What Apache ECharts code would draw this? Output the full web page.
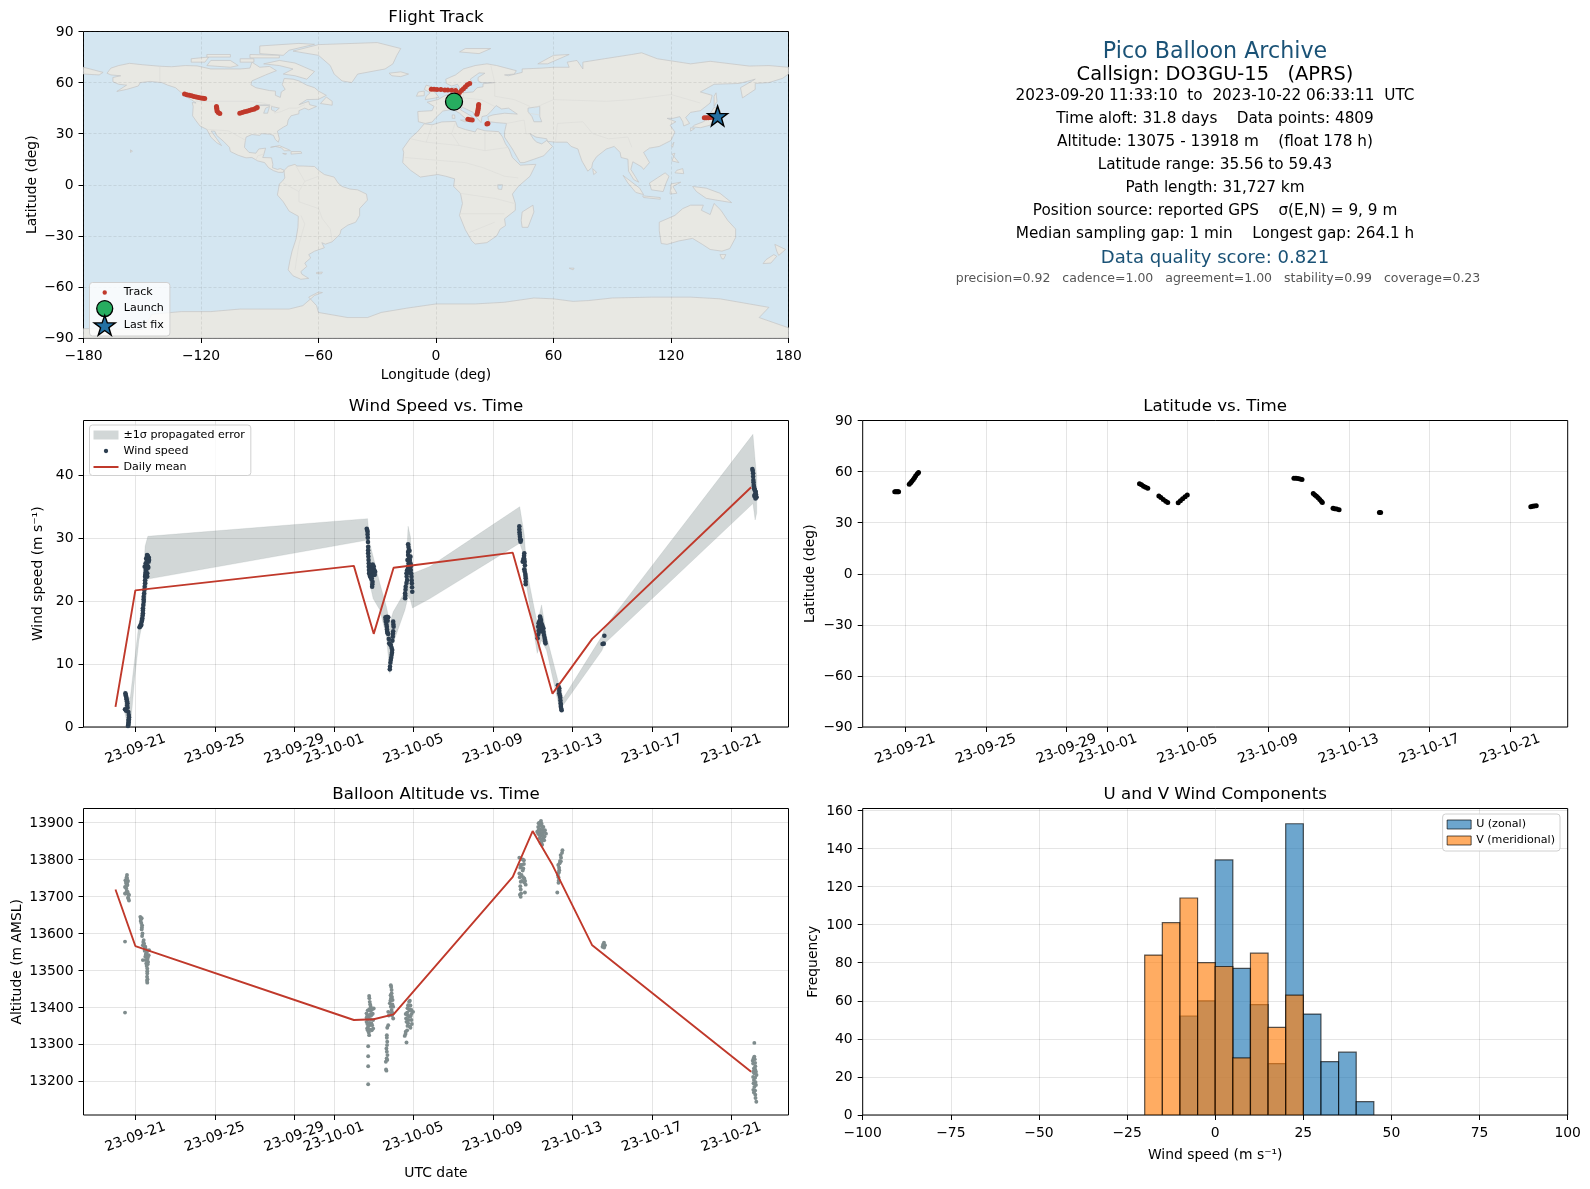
<!DOCTYPE html>
<html>
<head>
<meta charset="utf-8">
<title>Pico Balloon Archive</title>
<script src="https://cdn.jsdelivr.net/npm/echarts@6/dist/echarts.min.js"></script>
<style>html,body{margin:0;padding:0;background:#fff}#c{width:1590px;height:1189px}</style>
</head>
<body>
<div id="c"></div>
<script>
// ---------- axis ticks (days after 2023-09-21 00:00 UTC) ----------
const tickDays = [0, 4, 8, 10, 14, 18, 22, 26, 30];
const tickLabels = ['23-09-21','23-09-25','23-09-29','23-10-01','23-10-05','23-10-09','23-10-13','23-10-17','23-10-21'];
const windTicks = [0, 10, 20, 30, 40];
const altTicks = [13200, 13300, 13400, 13500, 13600, 13700, 13800, 13900];
const freqTicks = [0, 20, 40, 60, 80, 100, 120, 140, 160];

// ---------- info panel ----------
const infoTitle = 'Pico Balloon Archive';
const infoCallsign = 'Callsign: DO3GU-15   (APRS)';
const infoLines = [
  '2023-09-20 11:33:10  to  2023-10-22 06:33:11  UTC',
  'Time aloft: 31.8 days    Data points: 4809',
  'Altitude: 13075 - 13918 m    (float 178 h)',
  'Latitude range: 35.56 to 59.43',
  'Path length: 31,727 km',
  'Position source: reported GPS    σ(E,N) = 9, 9 m',
  'Median sampling gap: 1 min    Longest gap: 264.1 h'
];
const infoScore = 'Data quality score: 0.821';
const infoParts = 'precision=0.92   cadence=1.00   agreement=1.00   stability=0.99   coverage=0.23';

// ---------- map: track ----------
const trackLon = [-128.4,-127.2,-126,-124.8,-123.6,-122.4,-121.2,-120,-119,-118.1,
  -112.1,-112,-111.9,-111.8,-111.2,-110.4,
  -100.2,-99,-97.8,-96.6,-95.4,-94.2,-93,-92,-91.3,
  -2.4,-1,0.5,2.5,4.5,6,8,10,
  11.2,12,13,14,15,16,17.2, 9,9.5,10.5,
  21.8,21.7,21.6,21.4,21.2,20.9, 16.3,17.4,18.5, 26,26.5, 137,138,139,140,141.3];
const trackLat = [53.3,52.9,52.6,52.2,51.9,51.6,51.3,51,50.8,50.6,
  45.9,45.2,44.5,43.3,42.5,41.8,
  42,42.4,42.8,43.2,43.6,44,44.4,44.9,45.3,
  56.1,56.1,55.9,55.9,55.7,55.6,55.5,55.3,
  53.1,54.2,55.3,56.4,57.5,58.7,59.4, 48.1,48.2,48.2,
  47.2,46.2,45,43.8,42.6,41.4, 38.4,38.2,38, 35.7,35.9, 39.4,39.4,39.4,39.5,39.6];
const launchPoint = [9.2, 48.8];
const lastFixPoint = [143.8, 40.4];

// ---------- map: land outlines as [lon, lat] ----------
const landNorthAmerica = [[-168,65.5],[-166,68.5],[-162,70],[-156.5,71.3],[-150,70.5],[-141,69.6],[-135,69.3],[-128,70],[-122,69.8],[-115,68],[-108,68],[-100,68],[-95,68.5],[-94,72],[-90,69],[-85,69.5],[-81.5,67],[-87,64.5],[-94,61],[-94.5,58.7],[-92,57],[-85,55.3],[-82,55],[-82,52.5],[-79.5,51.3],[-79,54.5],[-77,56],[-78.5,58.8],[-77.5,62.4],[-73,62],[-70,61],[-66,58.5],[-62,57],[-60,55],[-56,52.5],[-60,50.2],[-66,50],[-70,47],[-65,49],[-64.5,47],[-61,46],[-65,44],[-67,45],[-70,43.5],[-70,41.7],[-74,40.5],[-75.5,38],[-76,35],[-78,33.8],[-81,31.5],[-80,27],[-80.5,25],[-82,26.5],[-83,29],[-85,29.7],[-89,30],[-90,29],[-94,29.5],[-97,28],[-97.5,25],[-97.8,22],[-95.5,19],[-92,18.5],[-90.5,21],[-87,21.5],[-88,17.5],[-88.5,16],[-84,15.8],[-83.3,12],[-83.5,10],[-81,9],[-79.5,9.5],[-77.5,8.5],[-78,7.3],[-80.5,7.3],[-83,8.3],[-85.5,10],[-87.5,13],[-91,14],[-94,16],[-97,15.8],[-101,17.3],[-105,19.5],[-105.5,22],[-108.5,25.5],[-112,29],[-113,31.5],[-114.8,31.5],[-112,27],[-109.5,23],[-112,24.7],[-115,28],[-117,32.5],[-120.5,34.5],[-122.5,37.5],[-124.3,40.5],[-124,46],[-124.5,48.3],[-122.5,48],[-125,50],[-128,52],[-130.5,54.5],[-133,57],[-137,58.5],[-140,60],[-146,60.7],[-151,60],[-152,58],[-158,56],[-163,54.8],[-158,58.5],[-162,59],[-165,60.5],[-165,63],[-161,64],[-166,64.5]];
const landSouthAmerica = [[-77.5,8.5],[-75.5,10.8],[-72,12],[-71,11],[-68,11],[-62,10.7],[-60,8.5],[-57,6],[-52,4.5],[-50,1],[-48,-1],[-44,-2.5],[-40,-3],[-35.5,-5.5],[-35,-9],[-39,-14],[-39,-18],[-41,-22],[-45,-23.7],[-48.5,-26.5],[-49,-29],[-53,-33.5],[-56.5,-34.9],[-58.3,-34],[-57,-37],[-62,-39],[-65,-41],[-64,-43],[-67,-46],[-66,-48],[-69,-51],[-68.5,-52.5],[-65,-55],[-69,-55.5],[-73,-53.5],[-75.5,-50],[-74.5,-44],[-73.5,-39],[-71.5,-32],[-70.5,-25],[-70.3,-18.5],[-75,-15.5],[-78,-10],[-81,-6],[-80.5,-3],[-80,0.5],[-78.5,2],[-77.2,4],[-77.5,7]];
const landAfrica = [[-6,35.8],[-2,35.2],[3,36.9],[10,37.2],[11,34],[15,32.4],[20,31],[21,33],[25,31.7],[32,31.2],[34,28],[35.5,24],[37.3,21],[39,16],[43,11.5],[51,12],[48,5],[42,-1],[39,-5.5],[40.5,-11],[40.5,-15],[35,-20],[35.5,-24],[32.8,-26],[31,-30],[26,-34],[20,-34.8],[18.3,-33],[15,-26.5],[12,-18],[13.5,-11],[12.5,-5],[9,-1],[9.5,3.5],[5,5],[1,6],[-4,5.2],[-8,4.5],[-13,8.5],[-17,13],[-16.5,19],[-17,21],[-13,27.5],[-9.5,31]];
const landEurasia = [[-9,37],[-9.3,43],[-2,43.5],[-1,46],[-4.5,48.5],[1,50],[4,52],[8,54],[8.5,57],[10.5,57.5],[11,54.3],[14,54],[19,54.5],[21,57],[24,57.5],[24,59.3],[30,60],[23,60],[21.5,61],[21.5,63],[25,65.5],[22,65.7],[17.5,62],[18.5,60],[16.5,57],[14.5,55.5],[12.8,55.5],[11,59],[8,58],[5.3,59.5],[5,62],[10,64.5],[14,68],[20,70],[26,71],[31,70],[41,67],[40,65],[35,64.5],[37,64],[44,66],[44,68],[54,68.5],[60,69],[68,69],[67,72],[72,73],[75,68],[75,72],[86,74],[100,76.5],[105,77.5],[113,74],[130,71],[140,72.5],[160,69.7],[170,70],[180,69],[180,65],[177,62.5],[170,60],[163,59.5],[163,56],[156.5,51],[155.5,57],[163,62],[155,59.5],[142,59],[135,54.5],[141,52.5],[140,48],[135,43.5],[130,42.5],[127.5,39.5],[129.5,36],[126.5,34.5],[126,37],[124.5,40],[121,39],[118,39],[122.5,37],[119.5,35],[122,31],[120,26],[114,22.5],[109,21.5],[106,19],[109,13],[106,9],[105,10.5],[100.5,13.5],[99.5,9],[103.5,1.5],[101,3],[98.3,8],[98,15],[94.5,16],[94,19],[91,22.5],[87,21],[82,16.5],[80,13],[79.5,10],[77.5,8],[74.5,14],[73,19],[72.5,21],[69,22.5],[67,25],[61,25],[57,25.5],[56.5,27],[51,28],[48,30],[50,26.5],[51.5,25],[54,24],[56.5,26],[59.5,22.5],[55,17],[45,13],[43,13],[39,21],[35,28],[35,31],[36,36],[31,36.5],[27,37],[26.5,40],[29,41],[35,42],[41.5,41.5],[37,45],[33.5,44.5],[30.7,46.5],[28,43],[26,40.7],[23.5,40],[23,36.5],[19.5,41],[19,42.5],[13.5,45.5],[12.5,44],[18.5,40],[16,38],[12,42],[8.5,44.3],[3.5,43.3],[0,39.5],[-2,36.8],[-5.5,36]];
const landAntarctica = [[-180,-84.5],[-150,-85],[-145,-76],[-130,-74.5],[-115,-74.5],[-100,-73],[-90,-73],[-75,-73],[-68,-71],[-62,-65],[-58,-63.3],[-60,-63],[-65,-66],[-61,-71],[-60,-75],[-45,-78],[-35,-78],[-28,-75],[-15,-72.5],[0,-70],[20,-70],[35,-69],[50,-66.5],[60,-67],[70,-68.5],[78,-68],[90,-66.5],[110,-66],[130,-66],[145,-67],[160,-70],[170,-72],[165,-78],[180,-84],[180,-90],[-180,-90]];
const landAustralia = [[114,-22],[122,-18],[126,-14],[130,-12],[136.5,-12],[135.5,-15],[140,-17.5],[142,-11],[145.5,-15],[149,-21],[153,-26],[153,-31],[150,-37.5],[146,-39],[140,-38],[136,-35],[131,-31.5],[124,-33],[118,-35],[115,-34.5],[114,-27]];
const landGreenland = [[-73,78.5],[-60,76],[-54,70],[-52,65],[-48,61],[-43,60],[-40,65],[-26,68],[-22,71],[-20,76],[-18,80],[-30,83.5],[-60,82.3]];
const landIslands = [
  [[-80,73],[-72,71.5],[-67,69],[-62,66.5],[-66,62],[-72,64],[-78,65],[-73,68],[-80,70],[-88,71]],
  [[-117,70],[-105,69],[-101,70],[-105,73],[-115,73]],
  [[-90,77],[-78,76],[-75,79],[-62,82.5],[-70,83],[-90,81.5]],
  [[-125,72],[-118,72],[-116,75],[-125,74]],
  [[-95,74.5],[-80,74.5],[-80,76],[-95,76.5]],
  [[-117,75],[-105,75],[-105,76.5],[-117,76.5]],
  [[-100,72],[-93,72],[-93,74],[-100,74]],
  [[-59,47.7],[-53,46.7],[-53,49],[-56,51.5]],
  [[-84.5,22],[-80,23],[-75,20.5],[-74.3,20],[-77.5,20],[-79,21.7],[-82,22.5]],
  [[-74,19.5],[-69,19.5],[-68.5,18.5],[-74,18]],
  [[-78.3,18.4],[-76.3,18.2],[-77,17.8]],
  [[-156,19],[-155,19.7],[-156,20.5]],
  [[-24,65.5],[-18,66.3],[-14,65],[-18,63.5],[-22.5,64]],
  [[-61,-51.5],[-58,-51.3],[-58.5,-52.3],[-61,-52.2]],
  [[44,-16],[49.5,-12],[50,-16],[47,-25],[44,-25],[43.5,-21]],
  [[-5.5,50],[1.5,51.3],[0,53.5],[-2,56],[-2,57.5],[-5,58.5],[-6,56],[-3,54],[-5,52]],
  [[-10,52],[-6,52.3],[-6,55],[-9,54.5]],
  [[12.5,38],[15.5,38],[15,36.8]],
  [[8.3,39],[9.7,39],[9.5,41],[8.3,41]],
  [[131,34],[135,33.5],[140,35],[141.8,39],[141,41.5],[139.8,39.5],[136.5,37],[132,35]],
  [[140,42],[145.5,43.3],[142,45.5],[141,43.5]],
  [[130,31.5],[132,33],[130,33.5]],
  [[142,46],[143.5,49],[143,54],[142,52]],
  [[120.2,23],[121.5,25],[120.8,22]],
  [[80,9.5],[82,7.3],[80.5,6]],
  [[120.5,14],[122,18.5],[120.5,18],[124,13]],
  [[122,7],[126.5,6.5],[126,9.5],[123,8.5]],
  [[109,1],[117,7],[119,5],[117.5,1],[116,-4],[110,-3]],
  [[95.5,5.5],[104,-2],[106,-5.8],[102,-4.5],[98,1]],
  [[105.5,-6.5],[114.5,-7.5],[114.5,-8.5],[106,-7.5]],
  [[119.5,-5.5],[120,0.5],[125,1.5],[121,-1],[123,-5]],
  [[131,-1],[138,-2],[145,-5],[151,-10.5],[143,-9],[138,-8],[133,-4]],
  [[145,-41],[148,-41],[147,-43.5],[146,-43.5]],
  [[173,-35],[178.5,-38],[175,-41.5],[174,-39]],
  [[172.5,-41],[174,-42],[171,-46],[167,-46.3],[168.5,-44]],
  [[52,71],[57,71],[68,76.5],[60,76]],
  [[12,78],[22,77],[28,80],[15,80]],
  [[-180,65],[-172,64.5],[-170,66],[-180,69]],
  [[68,-49],[70.5,-49],[70,-50]]
];
const lakes = [
  [[47,45],[53,46],[53,40],[54,37],[50,37],[49,40],[47,43]],
  [[-92,46.8],[-85,47],[-85,46.5],[-90,46.5]],
  [[-88,42],[-86,42],[-85,46],[-87,45]],
  [[-84,46],[-80,45],[-82,43],[-84,44]],
  [[31.5,0],[34,0],[33.5,-2.8],[31.7,-2.5]]
];
const borderLines = [
  [[-123,49],[-95,49],[-88,48],[-83,46],[-82.5,42],[-79,43],[-75,45],[-71,45],[-67,47]],
  [[-141,70],[-141,60]],
  [[-117,32.5],[-106,31.7],[-97,26]],
  [[-92,14.5],[-91,17],[-88,18]],
  [[-70,-10],[-60,-14],[-58,-20],[-54,-26],[-53,-33]],
  [[-70,-10],[-70,-4],[-67,2],[-60,5]],
  [[-69,-18],[-67,-23],[-70,-35],[-72,-50]],
  [[-78,1],[-70,-4]],[[-72,12],[-67,2]],
  [[-13,27],[-5,25],[12,23],[25,20],[25,31]],
  [[25,20],[37,22]],
  [[-16,16],[15,13],[24,10],[35,5],[42,4]],
  [[12,-5],[30,-8],[40,-11]],
  [[12,-17],[35,-17]],
  [[17,-28],[30,-22]],
  [[10,37],[8,30],[12,23]],[[-2,35],[-5,25]],
  [[28,70],[30,60]],
  [[60,50],[87,49],[100,50],[120,53],[135,48]],
  [[47,42],[53,41]],
  [[62,36],[75,37],[80,30],[88,27],[98,28],[100,22]],
  [[61,25],[62,36]],
  [[36,36],[45,38],[46,30],[48,30]],
  [[14,54],[14,51],[23,50],[30,46]],
  [[3,43],[8,48],[6,51]],
  [[30,60],[30,52],[40,50],[48,46]],
  [[50,45],[60,50]]
];

// ---------- wind speed (t = days after 09-21, m/s) ----------
const windT = [-0.50,-0.47,-0.44,-0.40,-0.39,-0.52,-0.46,-0.35,-0.32,-0.34,-0.35,-0.37,
  -0.49,-0.45,-0.42,-0.41,-0.48,-0.33,-0.33,-0.34,-0.36,
  0.21,0.26,0.30,0.32,0.35,0.38,0.38,0.42,0.42,0.45,0.49,0.49,0.50,0.52,0.47,0.64,0.52,0.67,0.55,0.64,0.59,0.69,0.60,0.57,
  0.24,0.28,0.34,0.37,0.38,0.40,0.42,0.44,0.47,0.49,0.51,0.55,0.6,0.62,0.57,0.65,0.68,0.62,0.56,0.6,
  11.65,11.69,11.70,11.72,11.72,11.74,11.75,11.77,11.84,11.94,11.92,11.97,12.02,12.07,11.87,11.80,11.90,12.0,
  11.67,11.69,11.71,11.72,11.73,11.75,11.76,11.8,11.82,11.88,11.93,11.95,12.0,12.05,11.9,11.85,11.95,
  12.59,12.73,12.61,12.66,12.68,12.73,12.78,12.86,12.93,12.90,12.86,12.81,12.98,13.0,12.96,
  12.6,12.67,12.7,12.64,12.67,12.7,12.76,12.83,12.9,12.92,12.88,12.84,12.82,12.99,12.98,12.97,12.94,
  13.73,13.77,13.73,13.82,13.73,13.65,13.68,13.61,13.58,13.58,13.87,13.90,13.92,13.94,13.85,13.70,
  13.75,13.73,13.78,13.76,13.72,13.68,13.66,13.65,13.6,13.59,13.89,13.91,13.93,13.8,13.85,13.88,13.8,13.78,
  19.33,19.34,19.36,19.39,19.41,19.33,19.35,19.37,
  19.58,19.55,19.50,19.60,19.58,19.63,19.65,19.65,19.57,19.53,19.58,19.61,19.6,19.64,19.65,
  20.37,20.42,20.34,20.47,20.28,20.54,20.34,20.45,20.25,20.57,20.62,20.65,
  20.39,20.36,20.3,20.44,20.5,20.4,20.3,20.47,20.28,20.55,20.6,20.63,20.4,20.35,
  21.27,21.34,21.34,21.39,21.41,21.42,21.46,21.3,21.34,21.37,21.4,21.42,21.44,
  23.61,23.52,23.58,
  31.06,31.10,31.11,31.13,31.15,31.18,31.23,31.20,31.27,31.16,
  31.08,31.1,31.12,31.14,31.17,31.2,31.24,31.18,31.25,31.22];
const windV = [5.35,4.93,4.40,3.76,3.07,2.81,2.60,2.38,1.54,1.01,0.48,0.16,
  5.1,4.65,4.1,3.4,2.7,1.9,1.25,0.75,0.3,
  15.84,16.05,16.21,16.74,17.27,18.06,18.86,19.92,20.71,21.77,22.83,23.89,24.15,24.95,25.48,25.48,26.0,26.27,26.8,27.07,27.33,26.54,24.42,25.2,
  15.95,16.3,17.0,17.7,18.5,19.4,20.3,21.2,22.3,23.3,24.5,25,25.6,26.4,26.6,25.3,26.9,27.2,24.2,23.9,
  31.51,31.04,30.08,28.65,27.6,26.54,25.48,24.42,23.89,23.09,22.3,25.21,24.95,24.68,25.48,24.15,23.62,24.15,
  31.3,30.6,29.4,28.1,27.1,26,24.95,24.6,23.9,23.5,22.7,24.5,25.5,24.2,25,24.8,25.8,
  17.43,17.43,16.74,15.94,15.15,14.78,13.29,13.03,12.24,11.44,10.65,9.16,16.74,15.94,14.35,
  17.1,17.5,16.9,16.3,15.5,14.9,14,13.1,12.6,11.8,11,10.2,9.6,16.3,15.2,14.8,13.7,
  29.03,28.13,27.33,26.54,25.48,24.42,23.36,22.3,21.24,20.45,24.95,23.89,22.83,21.5,27.07,26.54,
  28.6,27.8,27,26,25,24.9,23.9,22.9,21.8,20.9,24.4,23.3,22.2,28,26,25.6,25.2,24.5,
  31.89,30.93,30.24,29.45,29.71,31.4,30.6,29.85,
  27.6,26.8,26.27,26.27,25.05,24.31,23.62,22.67,27.2,26.5,26.7,25.7,24.7,24,23.1,
  17.53,17.0,16.74,16.21,15.94,15.68,15.15,15.41,14.09,14.62,13.82,13.29,
  17.3,16.9,16.5,16.5,16,15.8,15.3,15.2,14.7,15.1,14.2,13.6,16.4,15.9,
  6.62,6.14,5.35,4.66,3.76,3.23,2.65,6.4,5.75,5,4.2,3.5,2.9,
  14.51,13.19,13.24,
  41.0,40.31,39.25,38.45,37.92,37.66,37.39,36.86,36.49,36.70,
  40.7,39.8,38.9,38.2,37.8,37.5,37,36.9,36.6,36.3];
const dailyT = [-1, 0, 11, 12, 13, 19, 20, 21, 23, 31];
const dailyWind = [3.2, 21.7, 25.6, 14.8, 25.3, 27.7, 16.5, 5.3, 14.0, 38.1];
const dailyAlt = [13719, 13566, 13366, 13368, 13381, 13753, 13877, 13785, 13568, 13226];

// propagated error band
const bandT = [-0.54,-0.37,-0.25,-0.04,0.18,0.35,0.49,0.63,11.69,11.80,11.97,12.31,12.64,12.81,12.98,13.57,13.73,13.85,13.95,14.83,19.35,19.58,19.70,20.23,20.45,20.70,21.29,21.54,23.48,23.64,31.09,31.2,31.28];
const bandHigh = [5.8,4.3,4.8,10.6,16.5,19.1,28.7,30.3,33.1,29.2,27.1,22.8,19.1,16.5,18.3,21.5,31.9,30.2,24.4,25.5,35.0,30.5,24.9,16.5,19.4,14.4,7.2,4.6,14.4,15.9,46.5,42.4,39.8];
const bandLow = [2.4,0,0,7.5,13.8,16.5,18.6,23.5,29.7,22.8,20.4,18.6,14.4,8.5,13.3,18.6,20.7,20.2,18.9,20.4,29.2,27.1,22.3,11.7,13.8,12.2,3.8,3.5,12.1,13.3,35.5,32.9,34.0];

// ---------- latitude vs time ----------
const latT = [-0.52,-0.47,-0.42,-0.37,-0.33,
  0.2,0.27,0.33,0.4,0.46,0.52,0.6,0.66,
  11.62,11.72,11.82,11.92,12.03,
  12.58,12.68,12.8,12.92,13.02,
  13.54,13.65,13.76,13.88,13.99,
  19.28,19.38,19.48,19.58,19.68,
  20.24,20.32,20.4,20.48,20.56,20.64,20.69,
  21.22,21.3,21.4,21.52,
  23.52,23.58,
  31.03,31.12,31.2,31.3];
const latV = [48.1,48.1,48.2,48.2,48.1,
  52.6,53.4,54.3,55.4,56.4,57.5,58.7,59.4,
  52.8,52.2,51.4,50.8,50.2,
  45.6,44.8,43.6,42.6,41.9,
  41.7,42.9,44.1,45.2,46.2,
  56.1,56.1,55.9,55.6,55.3,
  47.2,46.3,45.5,44.6,43.6,42.6,41.9,
  38.4,38.2,38.0,37.6,
  35.9,35.9,
  39.4,39.6,39.8,40.0];

// ---------- altitude vs time ----------
const altT = [-0.42,-0.50,-0.37,-0.46,-0.52,-0.40,-0.46,-0.49,-0.32,-0.37,-0.32,-0.52,-0.52,-0.52,-0.42,-0.35,
  -0.44,-0.41,-0.44,-0.47,-0.43,-0.35,-0.39,
  0.25,0.32,0.27,0.34,0.32,0.34,0.42,0.38,0.50,0.47,0.55,0.50,0.67,0.38,0.64,0.55,0.60,0.60,0.59,0.60,0.69,
  0.28,0.3,0.33,0.36,0.4,0.44,0.46,0.52,0.58,0.53,0.63,0.6,0.52,0.62,0.57,0.6,0.61,0.59,
  11.77,11.80,11.85,11.64,12.0,11.75,11.88,11.64,11.97,11.80,11.67,11.97,11.77,11.88,11.72,11.72,11.72,11.72,
  11.78,11.82,11.7,11.78,11.85,11.92,11.68,11.82,11.95,11.72,11.85,11.68,11.78,11.92,11.72,11.82,11.9,11.75,11.64,11.7,
  12.86,12.90,12.85,12.95,12.81,12.98,12.90,12.73,12.98,12.73,12.66,12.68,12.64,12.69,12.61,12.64,
  12.88,12.9,12.87,12.92,12.84,12.94,12.86,12.88,12.95,12.76,12.68,12.66,12.67,12.66,12.65,12.68,12.62,12.92,
  13.82,13.73,13.90,13.61,13.98,13.78,13.65,13.90,13.82,13.61,13.56,13.65,13.73,
  13.78,13.85,13.7,13.8,13.9,13.68,13.75,13.85,13.63,13.92,13.7,13.85,13.68,13.6,13.8,13.72,
  19.33,19.56,19.40,19.53,19.33,19.44,19.58,19.40,19.65,19.40,19.61,19.40,
  19.5,19.56,19.45,19.5,19.38,19.35,19.52,19.46,19.58,19.62,19.38,19.36,19.42,
  20.37,20.45,20.28,20.54,20.37,20.62,20.23,20.45,20.67,20.34,20.54,20.45,
  20.3,20.42,20.37,20.46,20.3,20.4,20.5,20.58,20.28,20.42,20.5,20.6,20.36,20.42,20.5,20.4,20.48,20.58,20.32,
  21.50,21.41,21.38,21.29,21.34,21.27,21.32,21.24,21.48,21.43,21.42,21.36,21.33,21.32,21.3,21.3,
  23.59,23.52,23.64,23.55,23.6,
  31.16,31.16,31.08,31.21,31.11,31.27,31.14,31.24,31.11,31.21,31.26,
  31.12,31.18,31.1,31.2,31.14,31.2,31.16,31.24,31.1,31.2,31.12,31.22,31.16,31.2,31.14,31.22];
const altV = [13758,13744,13742,13735,13726,13731,13722,13708,13704,13697,13689,13578,13386,13708,13749,13706,
  13752,13738,13729,13739,13715,13694,13712,
  13645,13641,13634,13622,13611,13593,13582,13568,13564,13553,13546,13537,13541,13528,13523,13519,13505,13492,13483,13467,13555,
  13640,13628,13616,13600,13577,13572,13560,13558,13550,13543,13535,13530,13528,13517,13512,13498,13476,13472,
  13431,13415,13402,13384,13397,13375,13379,13361,13366,13352,13343,13343,13325,13357,13295,13268,13241,13192,
  13425,13408,13392,13395,13390,13395,13378,13380,13383,13368,13368,13355,13358,13352,13348,13340,13338,13332,13372,13338,
  13460,13447,13433,13420,13411,13402,13393,13388,13370,13352,13325,13307,13289,13271,13253,13229,
  13455,13438,13425,13428,13418,13408,13402,13385,13385,13378,13345,13318,13298,13280,13262,13258,13232,13378,
  13418,13406,13393,13382,13388,13375,13361,13366,13348,13334,13323,13305,13357,
  13415,13405,13398,13392,13382,13386,13366,13376,13370,13355,13350,13345,13338,13328,13395,13378,
  13805,13798,13785,13776,13762,13758,13749,13740,13732,13719,13711,13699,
  13800,13788,13785,13770,13778,13752,13752,13742,13738,13742,13728,13705,13708,
  13900,13897,13888,13888,13881,13879,13875,13872,13870,13866,13859,13848,
  13898,13904,13892,13890,13880,13880,13880,13875,13870,13865,13868,13862,13858,13855,13852,13845,13840,13852,13876,
  13825,13812,13796,13785,13771,13758,13744,13711,13818,13805,13795,13790,13778,13765,13752,13737,
  13575,13564,13568,13570,13562,
  13304,13267,13256,13241,13226,13217,13204,13190,13177,13164,13145,
  13262,13260,13248,13250,13235,13232,13222,13226,13212,13210,13195,13198,13185,13175,13170,13155];

// ---------- histogram ----------
const binEdges = [-20,-15,-10,-5,0,5,10,15,20,25,30,35,40,45];
const uCounts = [0,0,52,60,134,77,58,27,153,53,28,33,7];
const vCounts = [84,101,114,80,78,30,85,46,63,0,0,0,0];

// ---------- styling ----------
const FONT = 'DejaVu Sans';
const TICK = 13.9, TITLE = 16.67, LEG = 11.1;
const RED = '#c0392b', NAVY = '#2c3e50', SLATE = '#7f8c8d', TITLEBLUE = '#1a5276';
const GREEN = '#27ae60', STARBLUE = '#2471a3';
const BAND = 'rgba(127,140,141,0.35)';
const GRIDS = [
  {left:83.5, top:31.5, width:705, height:306.5},
  {left:83.5, top:420.5, width:705, height:306.5},
  {left:862.7, top:420.5, width:705, height:306.5},
  {left:83.5, top:808.5, width:705, height:306.5},
  {left:862.7, top:808.5, width:705, height:306.5}
].map(g => ({...g, show:true, borderColor:'#000', borderWidth:1, backgroundColor:'transparent'}));
GRIDS[0].backgroundColor = '#d4e6f1';
const STAR = 'M50 0L61.8 34.5L97.6 34.5L68.8 55.9L79.4 90.5L50 69L20.6 90.5L31.2 55.9L2.4 34.5L38.2 34.5Z';
const dotIcon = r => `path://M0 0M100 100M${50-r} 50A${r} ${r} 0 1 1 ${50+r} 50A${r} ${r} 0 1 1 ${50-r} 50Z`;
const minus = v => String(v).replace('-', '\u2212');
const gridLine = {show:true, lineStyle:{color:'rgba(0,0,0,0.1)', width:1}};
const mapGrid = {show:true, lineStyle:{color:'rgba(90,90,90,0.18)', width:0.7, type:[3,2]}};

function baseAxis(gridIndex, extra) {
  return Object.assign({
    type:'value', gridIndex, scale:false,
    axisLine:{show:false, onZero:false},
    axisTick:{show:true, length:5, lineStyle:{color:'#000', width:1}},
    axisLabel:{color:'#000', fontFamily:FONT, fontSize:TICK, margin:11.5, formatter:minus},
    splitLine:gridLine,
    nameTextStyle:{color:'#000', fontFamily:FONT, fontSize:TICK},
    nameLocation:'middle'
  }, extra);
}
function timeAxis(gridIndex, min, max, name) {
  const ax = baseAxis(gridIndex, {min, max, name:name||'', nameGap:51});
  ax.axisTick.customValues = tickDays;
  ax.axisLabel = {color:'#000', fontFamily:FONT, fontSize:TICK, rotate:20, align:'center', verticalAlign:'middle', margin:22,
    customValues:tickDays, formatter:v => tickLabels[tickDays.indexOf(v)] || ''};
  return ax;
}
function yPlain(gridIndex, extra) {
  const ax = baseAxis(gridIndex, extra);
  ax.axisLabel.margin = 10;
  ax.axisLabel.verticalAlign = 'top';
  ax.axisLabel.padding = [-6.5,0,0,0];
  return ax;
}
function yCustom(gridIndex, min, max, ticks, name, nameGap) {
  const ax = yPlain(gridIndex, {min, max, name, nameGap});
  ax.axisTick.customValues = ticks;
  ax.axisLabel.customValues = ticks;
  return ax;
}
const pairs = (xs, ys) => xs.map((x, i) => [x, ys[i]]);

const allLand = [landNorthAmerica, landSouthAmerica, landAfrica, landEurasia, landAntarctica, landAustralia, landGreenland, ...landIslands];

function shapesSeries(name, shapes, type, style, z) {
  return {
    type:'custom', name, xAxisIndex:0, yAxisIndex:0, silent:true, clip:true, z,
    data:[[0,0]],
    renderItem: (params, api) => ({
      type:'group',
      children: shapes.map(s => ({type, shape:{points:s.map(p => api.coord(p))}, style}))
    })
  };
}
const bandSeries = {
  type:'custom', name:'±1σ propagated error', xAxisIndex:1, yAxisIndex:1, silent:true, clip:true, z:1,
  itemStyle:{color:BAND},
  data:[[0,0]],
  renderItem: (params, api) => {
    const up = bandT.map((t, i) => api.coord([t, bandHigh[i]]));
    const lo = bandT.map((t, i) => api.coord([t, bandLow[i]])).reverse();
    return {type:'polygon', shape:{points: up.concat(lo)}, style:{fill:BAND, stroke:'rgba(127,140,141,0.2)', lineWidth:0.7}};
  }
};
function histSeries(name, counts, fill) {
  return {
    type:'custom', name, xAxisIndex:4, yAxisIndex:4, silent:true, clip:true, z:name[0]==='U'?2:3,
    itemStyle:{color:fill},
    data: counts.map((c, i) => [binEdges[i], binEdges[i+1], c]).filter(d => d[2] > 0),
    renderItem: (params, api) => {
      const a = api.coord([api.value(0), api.value(2)]);
      const b = api.coord([api.value(1), 0]);
      return {type:'rect', shape:{x:a[0], y:a[1], width:b[0]-a[0], height:b[1]-a[1]},
        style:{fill, stroke:'rgba(0,0,0,0.65)', lineWidth:1.2}};
    }
  };
}
function scatter(name, gi, data, color, size, z) {
  return {type:'scatter', name, xAxisIndex:gi, yAxisIndex:gi, data, symbol:'circle', symbolSize:size,
    itemStyle:{color, opacity:1}, silent:true, z:z||3, clip:true};
}
const legendBase = {
  orient:'vertical', selectedMode:false, backgroundColor:'rgba(255,255,255,0.8)',
  borderColor:'#d0d0d0', borderWidth:1, borderRadius:3,
  textStyle:{fontFamily:FONT, fontSize:LEG, color:'#000'}, itemWidth:25, itemHeight:9, itemGap:5
};
const xTitle = (text, g) => ({text, left:g.left+g.width/2, top:g.top-22, textAlign:'center',
  textStyle:{fontFamily:FONT, fontSize:TITLE, fontWeight:'normal', color:'#000'}, padding:0});

const infoRows = [
  {t:infoTitle, y:52.7, s:22.2, c:TITLEBLUE, x:1215},
  {t:infoCallsign, y:74.8, s:19.4, c:'#000', x:1215},
  ...infoLines.map((t, i) => ({t, y:96.3+i*23, s:15.28, c:'#000', x:1215})),
  {t:infoScore, y:258.7, s:18.06, c:TITLEBLUE, x:1215},
  {t:infoParts, y:278.7, s:12.5, c:'#555555', x:1218}
];

const option = {
  animation:false,
  backgroundColor:'#fff',
  textStyle:{fontFamily:FONT},
  grid:GRIDS,
  title:[
    xTitle('Flight Track', GRIDS[0]),
    xTitle('Wind Speed vs. Time', GRIDS[1]),
    xTitle('Latitude vs. Time', GRIDS[2]),
    xTitle('Balloon Altitude vs. Time', GRIDS[3]),
    xTitle('U and V Wind Components', GRIDS[4])
  ],
  graphic:infoRows.map(r => ({
    type:'text', silent:true, z:50, x:r.x, y:r.y,
    style:{text:r.t, fill:r.c, font:`${r.s}px "${FONT}"`, textAlign:'center', textVerticalAlign:'middle'}
  })),
  legend:[
    Object.assign({}, legendBase, {
      left:89.5, top:282.5, padding:[0,6,0,4], itemWidth:28, itemHeight:20, itemGap:-4.6, z:20,
      data:[
        {name:'Track', icon:dotIcon(11), itemStyle:{color:RED, opacity:1}},
        {name:'Launch', icon:dotIcon(40), itemStyle:{color:GREEN, borderColor:'#000', borderWidth:1.3, opacity:1}},
        {name:'Last fix', icon:'path://'+STAR, itemStyle:{color:STARBLUE, borderColor:'#000', borderWidth:1.4, opacity:1}}
      ]}),
    Object.assign({}, legendBase, {
      left:89.5, top:425, padding:[4.5,6,3,4], z:20,
      data:[
        {name:'±1σ propagated error', icon:'rect', itemStyle:{color:BAND, borderColor:'rgba(127,140,141,0.2)'}},
        {name:'Wind speed', icon:dotIcon(24), itemStyle:{color:NAVY, opacity:1}},
        {name:'Daily mean', icon:'path://M0 46H100V54H0Z', itemStyle:{color:RED, opacity:1}}
      ]}),
    Object.assign({}, legendBase, {
      right:30, top:814, padding:[5,5,5,4], itemWidth:24, z:20,
      data:[
        {name:'U (zonal)', icon:'rect', itemStyle:{color:'rgba(31,119,180,0.65)', borderColor:'rgba(0,0,0,0.65)', borderWidth:1}},
        {name:'V (meridional)', icon:'rect', itemStyle:{color:'rgba(255,127,14,0.65)', borderColor:'rgba(0,0,0,0.65)', borderWidth:1}}
      ]})
  ],
  xAxis:[
    baseAxis(0, {min:-180, max:180, interval:60, name:'Longitude (deg)', nameGap:30, z:2, splitLine:mapGrid}),
    timeAxis(1, -2.61, 32.88),
    timeAxis(2, -2.11, 32.86),
    timeAxis(3, -2.61, 32.88, 'UTC date'),
    baseAxis(4, {min:-100, max:100, interval:25, name:'Wind speed (m s\u207B\u00B9)', nameGap:33})
  ],
  yAxis:[
    yPlain(0, {min:-90, max:90, interval:30, name:'Latitude (deg)', nameGap:44, z:2, splitLine:mapGrid}),
    yCustom(1, 0, 48.7, windTicks, 'Wind speed (m s\u207B\u00B9)', 38),
    yPlain(2, {min:-90, max:90, interval:30, name:'Latitude (deg)', nameGap:45}),
    yCustom(3, 13109, 13938, altTicks, 'Altitude (m AMSL)', 59),
    yCustom(4, 0, 161, freqTicks, 'Frequency', 42)
  ],
  series:[
    shapesSeries('Land', allLand, 'polygon', {fill:'#e8e8e3', stroke:'#c4c4c4', lineWidth:0.7}, 1),
    shapesSeries('Lakes', lakes, 'polygon', {fill:'#d4e6f1', stroke:'#c4c4c4', lineWidth:0.7}, 1),
    shapesSeries('Borders', borderLines, 'polyline', {fill:null, stroke:'#dcdcd8', lineWidth:0.6}, 1),
    scatter('Track', 0, pairs(trackLon, trackLat), RED, 5, 4),
    Object.assign(scatter('Launch', 0, [launchPoint], GREEN, 17, 5), {itemStyle:{color:GREEN, borderColor:'#000', borderWidth:1.3, opacity:1}}),
    Object.assign(scatter('Last fix', 0, [lastFixPoint], STARBLUE, 20, 5), {symbol:'path://'+STAR, itemStyle:{color:STARBLUE, borderColor:'#000', borderWidth:1.4, opacity:1}}),
    bandSeries,
    scatter('Wind speed', 1, pairs(windT, windV), NAVY, 4.6, 3),
    {type:'line', name:'Daily mean', xAxisIndex:1, yAxisIndex:1, data:pairs(dailyT, dailyWind), showSymbol:false, silent:true, z:4,
      lineStyle:{color:RED, width:1.9}, itemStyle:{color:RED}},
    scatter('Latitude', 2, pairs(latT, latV), '#000', 5, 3),
    scatter('Altitude', 3, pairs(altT, altV), SLATE, 3.9, 3),
    {type:'line', name:'Daily mean altitude', xAxisIndex:3, yAxisIndex:3, data:pairs(dailyT, dailyAlt), showSymbol:false, silent:true, z:4,
      lineStyle:{color:RED, width:1.9}},
    histSeries('U (zonal)', uCounts, 'rgba(31,119,180,0.65)'),
    histSeries('V (meridional)', vCounts, 'rgba(255,127,14,0.65)')
  ]
};
const chart = echarts.init(document.getElementById('c'), null, {renderer:'canvas', width:1590, height:1189});
chart.setOption(option);
</script>
</body>
</html>
